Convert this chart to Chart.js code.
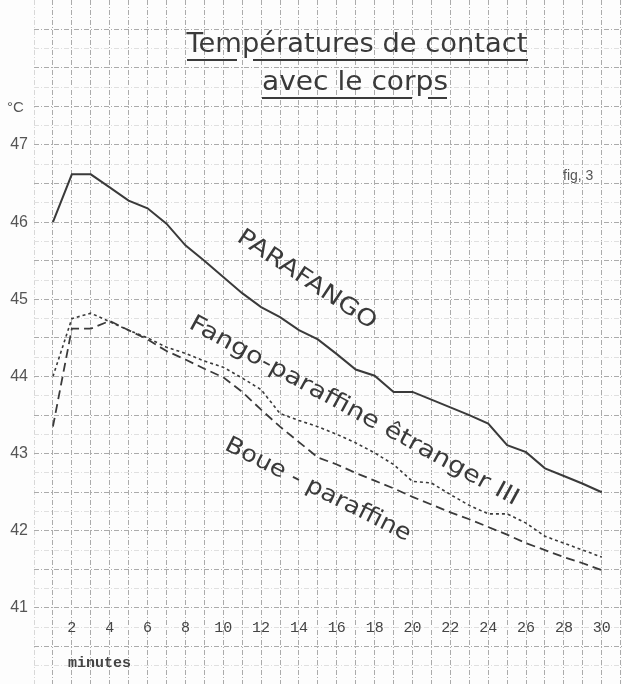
<!DOCTYPE html>
<html>
<head>
<meta charset="utf-8">
<script src="https://cdn.jsdelivr.net/npm/chart.js@4.4.0/dist/chart.umd.min.js"></script>
<style>
  html, body { margin: 0; padding: 0; background: #fff; }
  #wrap { width: 622px; height: 684px; }
</style>
</head>
<body>
<div id="wrap"><canvas id="chart"></canvas></div>
<script>
// minutes after application
const minutes = [1, 2, 3, 4, 5, 6, 7, 8, 9, 10, 11, 12, 13, 14, 15,
                 16, 17, 18, 19, 20, 21, 22, 23, 24, 25, 26, 27, 28, 29, 30];

// contact temperature, °C
const parafango = [46.0, 46.62, 46.62, 46.45, 46.28, 46.18, 45.98, 45.7, 45.5, 45.29,
                   45.08, 44.9, 44.77, 44.6, 44.48, 44.29, 44.09, 44.01, 43.8, 43.8,
                   43.7, 43.6, 43.5, 43.39, 43.11, 43.02, 42.81, 42.71, 42.61, 42.5];
const fangoParaffine = [44.0, 44.75, 44.82, 44.71, 44.6, 44.5, 44.38, 44.3, 44.2, 44.12,
                        43.98, 43.83, 43.52, 43.43, 43.35, 43.25, 43.14, 43.01, 42.86, 42.64,
                        42.62, 42.47, 42.33, 42.22, 42.22, 42.1, 41.93, 41.84, 41.75, 41.66];
const boueParaffine = [43.35, 44.62, 44.62, 44.72, 44.6, 44.48, 44.33, 44.22, 44.1, 43.99,
                       43.8, 43.57, 43.35, 43.15, 42.95, 42.86, 42.75, 42.65, 42.55, 42.44,
                       42.34, 42.24, 42.15, 42.05, 41.95, 41.84, 41.75, 41.66, 41.58, 41.49];

const xTickLabels = [2, 4, 6, 8, 10, 12, 14, 16, 18, 20, 22, 24, 26, 28, 30];
const yTickLabels = [41, 42, 43, 44, 45, 46, 47];

const ink = '#3a3a3a';

const pts = (arr) => arr.map((v, i) => ({ x: minutes[i], y: v }));

const paperPlugin = {
  id: 'paper',
  beforeDraw(chart) {
    const ctx = chart.ctx;
    ctx.save();
    ctx.fillStyle = '#fdfdfd';
    ctx.fillRect(0, 0, chart.width, chart.height);
    ctx.restore();
  },
  afterDraw(chart) {
    const ctx = chart.ctx;
    const xs = chart.scales.x, ys = chart.scales.y;
    ctx.save();
    ctx.fillStyle = ink;
    ctx.strokeStyle = ink;

    function stretched(text, cx, cy, width, font, angle) {
      ctx.save();
      ctx.translate(cx, cy);
      ctx.rotate((angle || 0) * Math.PI / 180);
      ctx.font = font;
      const w = ctx.measureText(text).width;
      ctx.scale(width / w, 1);
      ctx.textAlign = 'center';
      ctx.textBaseline = 'middle';
      ctx.fillText(text, 0, 0);
      ctx.restore();
    }

    // title
    stretched('Températures de contact', 357, 45, 341, '27px "DejaVu Sans"');
    stretched('avec le corps', 355, 83, 186, '27px "DejaVu Sans"');
    ctx.lineWidth = 2;
    [[187, 237, 60], [253, 528, 60], [262, 412, 98], [428, 447, 98]].forEach(s => {
      ctx.beginPath();
      ctx.moveTo(s[0], s[2]);
      ctx.lineTo(s[1], s[2]);
      ctx.stroke();
    });

    // unit and figure number
    ctx.fillStyle = '#555';
    ctx.font = '15px "Liberation Sans"';
    ctx.textAlign = 'left';
    ctx.textBaseline = 'middle';
    ctx.fillText('°C', 7, 108);
    ctx.font = '14px "Liberation Sans"';
    ctx.fillText('fig, 3', 563, 176);

    // x tick labels inside the grid
    ctx.fillStyle = '#444';
    ctx.font = '15px "Liberation Mono"';
    ctx.textAlign = 'center';
    const yLab = ys.getPixelForValue(40.74);
    xTickLabels.forEach(v => ctx.fillText(String(v), xs.getPixelForValue(v), yLab));
    ctx.font = 'bold 15px "Liberation Mono"';
    ctx.textAlign = 'left';
    ctx.fillText('minutes', xs.getPixelForValue(1.8), ys.getPixelForValue(40.28));

    // curve names
    ctx.fillStyle = ink;
    stretched('PARAFANGO', xs.getPixelForValue(14.4), ys.getPixelForValue(45.25), 162, '23px "DejaVu Sans"', 33.5);
    stretched('Fango-paraffine êtranger III', xs.getPixelForValue(16.9), ys.getPixelForValue(43.55), 372, '23px "DejaVu Sans"', 28.6);
    stretched('Boue - paraffine', xs.getPixelForValue(15.0), ys.getPixelForValue(42.53), 205, '23px "DejaVu Sans"', 26.6);
    ctx.restore();
  }
};

new Chart(document.getElementById('chart'), {
  type: 'line',
  data: {
    datasets: [
      { label: 'PARAFANGO', data: pts(parafango), borderColor: ink, borderWidth: 2 },
      { label: 'Fango-paraffine êtranger III', data: pts(fangoParaffine), borderColor: ink,
        borderWidth: 1.6, borderDash: [3, 3] },
      { label: 'Boue - paraffine', data: pts(boueParaffine), borderColor: ink,
        borderWidth: 1.8, borderDash: [9, 5] }
    ]
  },
  options: {
    responsive: true,
    maintainAspectRatio: false,
    animation: false,
    layout: { padding: 0 },
    elements: { point: { radius: 0 }, line: { tension: 0 } },
    plugins: { legend: { display: false }, tooltip: { enabled: false } },
    scales: {
      x: {
        type: 'linear',
        min: 0,
        max: 31.07,
        afterBuildTicks: (s) => {
          const t = [];
          for (let v = 0; v <= 31; v++) t.push({ value: v });
          s.ticks = t;
        },
        ticks: { display: false },
        grid: {
          drawTicks: false,
          color: (c) => c.tick && c.tick.value === 0 ? '#d8d8d8' : '#ababab',
          lineWidth: 1
        },
        border: { display: false, dash: [5, 2, 1, 2] }
      },
      y: {
        min: 40.015,
        max: 48.879,
        afterBuildTicks: (s) => {
          const t = [];
          for (let v = 40.25; v <= 48.5; v += 0.25) t.push({ value: Math.round(v * 100) / 100 });
          s.ticks = t;
        },
        afterFit: (s) => {
          s.width = 34;
          s.paddingTop = 0;
          s.paddingBottom = 0;
        },
        ticks: {
          autoSkip: false,
          padding: 6,
          color: '#555',
          font: { family: 'Liberation Sans', size: 16 },
          callback: (v) => yTickLabels.includes(v) ? String(v) : ''
        },
        grid: {
          drawTicks: false,
          color: (c) => c.tick && Number.isInteger(c.tick.value * 2) ? '#ababab' : '#e0e0e0',
          lineWidth: 1
        },
        border: { display: false, dash: [5, 2, 1, 2] }
      }
    }
  },
  plugins: [paperPlugin]
});
</script>
</body>
</html>
